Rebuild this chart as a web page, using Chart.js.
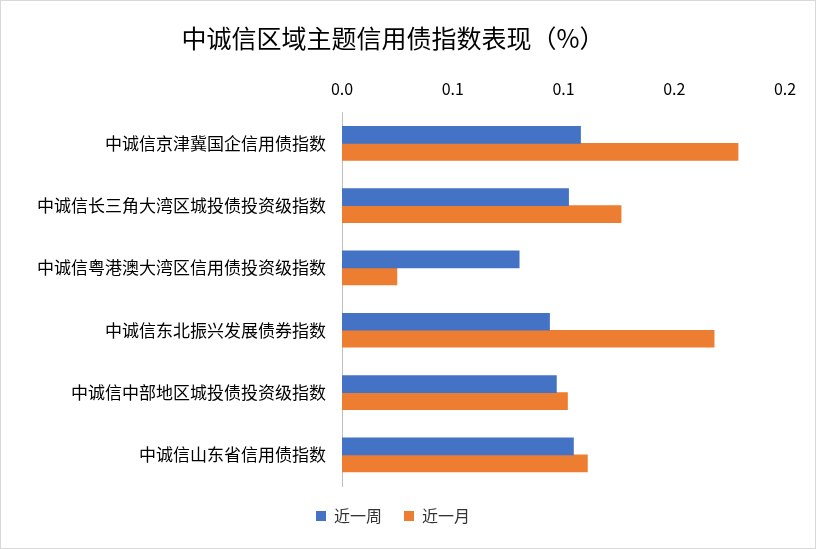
<!DOCTYPE html>
<html><head><meta charset="utf-8">
<script src="https://cdn.jsdelivr.net/npm/chart.js@4/dist/chart.umd.min.js"></script>
<style>
html,body{margin:0;padding:0;background:#fff;}
#wrap{position:absolute;left:0;top:0;width:814px;height:547px;border:1px solid #d9d9d9;}
</style></head><body>
<div id="wrap"><canvas id="c" width="814" height="547"></canvas></div>
<script>
const categories=['中诚信京津冀国企信用债指数','中诚信长三角大湾区城投债投资级指数','中诚信粤港澳大湾区信用债投资级指数','中诚信东北振兴发展债券指数','中诚信中部地区城投债投资级指数','中诚信山东省信用债指数'];
const weekValues=[0.1077,0.1023,0.0800,0.0937,0.0968,0.1045];
const monthValues=[0.1788,0.1260,0.0248,0.1680,0.1018,0.1108];
const tickLabels=['0.0','0.1','0.1','0.2','0.2'];
const F='"Noto Sans CJK SC","Noto Sans",sans-serif';
new Chart(document.getElementById('c'),{
type:'bar',
data:{labels:categories,datasets:[
{label:'近一周',data:weekValues,backgroundColor:'#4472C4',barThickness:17},
{label:'近一月',data:monthValues,backgroundColor:'#ED7D31',barThickness:17}]},
options:{indexAxis:'y',responsive:false,animation:false,
layout:{padding:{left:0,right:30,top:8,bottom:14}},
plugins:{
title:{display:true,text:'中诚信区域主题信用债指数表现（%）',font:{family:F,size:25,weight:'normal'},color:'#000',padding:{top:14,bottom:12}},
legend:{position:'bottom',labels:{font:{family:F,size:16},color:'#333',boxWidth:10,boxHeight:10,padding:22}},
tooltip:{enabled:false}},
scales:{
x:{position:'top',min:0,max:0.2,grid:{display:false,drawTicks:false},border:{display:false},
ticks:{stepSize:0.05,padding:14,font:{family:F,size:16},color:'#000',callback:(v,i)=>tickLabels[i]}},
y:{grid:{display:false,drawTicks:false},border:{display:true,color:'#bfbfbf'},
afterFit:s=>{s.width=341;},
ticks:{padding:16,font:{family:F,size:17},color:'#000'}}}}
});
</script></body></html>
